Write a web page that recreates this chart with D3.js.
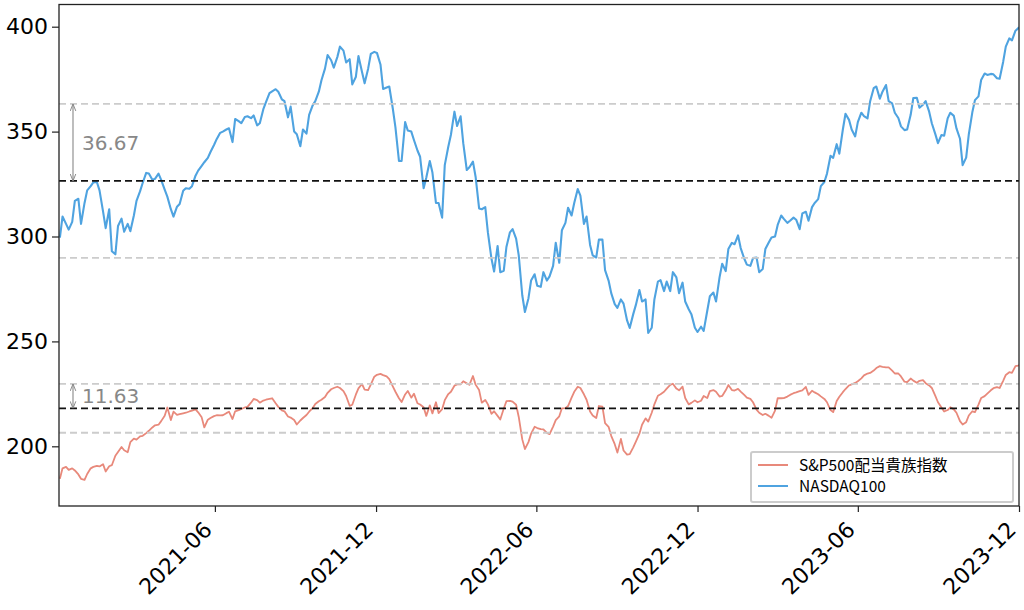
<!DOCTYPE html>
<html><head><meta charset="utf-8">
<script src="https://cdn.jsdelivr.net/npm/d3@7"></script>
<style>body{margin:0;background:#fff}</style>
</head><body><svg id="c" width="1024" height="610"></svg>
<script>
const dates = [
"2020-12-07","2020-12-10","2020-12-14","2020-12-17","2020-12-21","2020-12-24","2020-12-28","2020-12-31",
"2021-01-04","2021-01-07","2021-01-11","2021-01-14","2021-01-18","2021-01-21","2021-01-25","2021-01-28",
"2021-02-01","2021-02-04","2021-02-08","2021-02-11","2021-02-15","2021-02-18","2021-02-22","2021-02-25",
"2021-03-01","2021-03-04","2021-03-08","2021-03-11","2021-03-15","2021-03-18","2021-03-22","2021-03-25",
"2021-03-29","2021-04-01","2021-04-05","2021-04-08","2021-04-12","2021-04-15","2021-04-19","2021-04-22",
"2021-04-26","2021-04-29","2021-05-03","2021-05-06","2021-05-10","2021-05-13","2021-05-17","2021-05-20",
"2021-05-24","2021-05-27","2021-05-31","2021-06-03","2021-06-07","2021-06-10","2021-06-14","2021-06-17",
"2021-06-21","2021-06-24","2021-06-28","2021-07-01","2021-07-05","2021-07-08","2021-07-12","2021-07-15",
"2021-07-19","2021-07-22","2021-07-26","2021-07-29","2021-08-02","2021-08-05","2021-08-09","2021-08-12",
"2021-08-16","2021-08-19","2021-08-23","2021-08-26","2021-08-30","2021-09-02","2021-09-06","2021-09-09",
"2021-09-13","2021-09-16","2021-09-20","2021-09-23","2021-09-27","2021-09-30","2021-10-04","2021-10-07",
"2021-10-11","2021-10-14","2021-10-18","2021-10-21","2021-10-25","2021-10-28","2021-11-01","2021-11-04",
"2021-11-08","2021-11-11","2021-11-15","2021-11-18","2021-11-22","2021-11-25","2021-11-29","2021-12-02",
"2021-12-06","2021-12-09","2021-12-13","2021-12-16","2021-12-20","2021-12-23","2021-12-27","2021-12-30",
"2022-01-03","2022-01-06","2022-01-10","2022-01-13","2022-01-17","2022-01-20","2022-01-24","2022-01-27",
"2022-01-31","2022-02-03","2022-02-07","2022-02-10","2022-02-14","2022-02-17","2022-02-21","2022-02-24",
"2022-02-28","2022-03-03","2022-03-07","2022-03-10","2022-03-14","2022-03-17","2022-03-21","2022-03-24",
"2022-03-28","2022-03-31","2022-04-04","2022-04-07","2022-04-11","2022-04-14","2022-04-18","2022-04-21",
"2022-04-25","2022-04-28","2022-05-02","2022-05-05","2022-05-09","2022-05-12","2022-05-16","2022-05-19",
"2022-05-23","2022-05-26","2022-05-30","2022-06-02","2022-06-06","2022-06-09","2022-06-13","2022-06-16",
"2022-06-20","2022-06-23","2022-06-27","2022-06-30","2022-07-04","2022-07-07","2022-07-11","2022-07-14",
"2022-07-18","2022-07-21","2022-07-25","2022-07-28","2022-08-01","2022-08-04","2022-08-08","2022-08-11",
"2022-08-15","2022-08-18","2022-08-22","2022-08-25","2022-08-29","2022-09-01","2022-09-05","2022-09-08",
"2022-09-12","2022-09-15","2022-09-19","2022-09-22","2022-09-26","2022-09-29","2022-10-03","2022-10-06",
"2022-10-10","2022-10-13","2022-10-17","2022-10-20","2022-10-24","2022-10-27","2022-10-31","2022-11-03",
"2022-11-07","2022-11-10","2022-11-14","2022-11-17","2022-11-21","2022-11-24","2022-11-28","2022-12-01",
"2022-12-05","2022-12-08","2022-12-12","2022-12-15","2022-12-19","2022-12-22","2022-12-26","2022-12-29",
"2023-01-02","2023-01-05","2023-01-09","2023-01-12","2023-01-16","2023-01-19","2023-01-23","2023-01-26",
"2023-01-30","2023-02-02","2023-02-06","2023-02-09","2023-02-13","2023-02-16","2023-02-20","2023-02-23",
"2023-02-27","2023-03-02","2023-03-06","2023-03-09","2023-03-13","2023-03-16","2023-03-20","2023-03-23",
"2023-03-27","2023-03-30","2023-04-03","2023-04-06","2023-04-10","2023-04-13","2023-04-17","2023-04-20",
"2023-04-24","2023-04-27","2023-05-01","2023-05-04","2023-05-08","2023-05-11","2023-05-15","2023-05-18",
"2023-05-22","2023-05-25","2023-05-29","2023-06-01","2023-06-05","2023-06-08","2023-06-12","2023-06-15",
"2023-06-19","2023-06-22","2023-06-26","2023-06-29","2023-07-03","2023-07-06","2023-07-10","2023-07-13",
"2023-07-17","2023-07-20","2023-07-24","2023-07-27","2023-07-31","2023-08-03","2023-08-07","2023-08-10",
"2023-08-14","2023-08-17","2023-08-21","2023-08-24","2023-08-28","2023-08-31","2023-09-04","2023-09-07",
"2023-09-11","2023-09-14","2023-09-18","2023-09-21","2023-09-25","2023-09-28","2023-10-02","2023-10-05",
"2023-10-09","2023-10-12","2023-10-16","2023-10-19","2023-10-23","2023-10-26","2023-10-30","2023-11-02",
"2023-11-06","2023-11-09","2023-11-13","2023-11-16","2023-11-20","2023-11-23","2023-11-27","2023-11-30",
"2023-12-01"
];
const dividendAristocrats = [
184.5,189.5, 190.2,188.8, 189.5,188.5, 186.6,184.5, 184,186.8, 189.5,190.2, 190.7,190.4, 191.5,188,
190.5,191, 195.5,197.3, 199.7,198.1, 197.2,202, 203.7,203.2, 204.7,205, 206.3,207.4, 209,210,
210.3,212, 214.6,218.5, 212.5,216.5, 215,215.3, 215.7,216, 216.6,217, 217.6,216.2, 213.8,209,
212.7,213.5, 214.4,214.8, 214.7,214.8, 215.8,216.5, 213,216.7, 217.2,217.8, 218.5,218.8, 220.8,222.6,
222,220.8, 221.8,222.2, 222.6,222.9, 220.5,218.8, 217.1,216.7, 214.2,213.7, 212.5,210.4, 212.3,213.5,
214.9,216.5, 218.2,220.2, 221.5,222.2, 223.5,225.5, 227.2,227.8, 228.4,227.8, 226.3,224, 219.3,219.8,
224.6,227.6, 229.7,227, 226.8,229.4, 233.2,234.1, 234.5,233.9, 233.3,232, 228.6,226, 222.9,221.1,
224.7,226.4, 223.2,225.1, 220.5,219.9, 218.6,214.5, 219.5,215.7, 221,215.8, 217.7,222, 224.9,226,
228.9,229.5, 229.5,231, 230,229.3, 233.5,229.4, 226.8,220.8, 222.1,220, 215.5,216.7, 214.5,212.8,
218,221.5, 221.7,221.3, 219.8,214, 203.3,198.7, 202,206, 209.3,208.7, 208.2,208.1, 206.4,205.8,
209.4,212.5, 214.3,218.1, 218.2,219.2, 223.2,226, 228.4,227.8, 224.8,222.2, 216.6,214.7, 213.5,219.2,
218.9,211, 209.3,205, 201,197, 203.5,198, 196,196.3, 199.5,202.2, 206,210.3, 213.3,211.8,
216,220, 224.1,224.8, 226,227.5, 229.3,229.8, 227.5,226.7, 228.4,223, 220,220.7, 221.9,221,
221.7,224, 223,226.3, 226.8,226, 223.7,224, 226.7,229.2, 226.8,226.6, 227.4,226.1, 224.5,223.2,
222.6,221, 217.5,216, 214.9,215.5, 214.5,213.6, 217,222.9, 222.9,223, 223.7,224.5, 225.3,225.7,
226.3,226.7, 228.3,224.5, 226.5,225.7, 224.8,223.8, 222.6,221, 217.3,216.3, 221.6,223.6, 225.8,227.3,
229,229.5, 230.2,231, 232.4,233.8, 234.7,235, 236.1,237.3, 238.2,237.9, 237.6,237.6, 236.1,234.7,
234.7,233.3, 230.8,230.6, 232.3,231.3, 230.3,231.2, 231.5,230.1, 229,227.8, 224,221, 218.5,216.6,
217.3,218.6, 217.6,216, 212,210.4, 211.5,214.7, 216.7,216.3, 219.9,223, 223.9,225.1, 226.7,227.7,
228.2,227.8, 231.2,234, 235.3,235, 238.2,238.5,
238.75
];
const nasdaq100 = [
299.5,309.5, 306,303.3, 307,317, 318,306, 316,322, 324,325.8, 326,322, 312,304,
313,293, 291.5,305, 308.5,302.3, 306,302.5, 310,317, 321.5,325.5, 330.3,330, 327,327.5,
330,327, 322.3,319, 313,309.5, 314.2,315.5, 321.8,323, 322.8,324, 329,331.4, 333.7,335.4,
337.5,340.3, 343.6,346.4, 349.4,350, 351,351.6, 345,356, 355,354, 357,357.3, 356.4,357.7,
353,354, 360.7,364, 368.3,369.2, 370.2,369, 365.4,364.5, 356.8,361.9, 350,348.7, 343,351,
349,358, 362.5,364.5, 369,374.5, 380,386.5, 384,380.5, 385.5,390.5, 388.6,383, 384.5,372.5,
376,386, 378.5,373, 380,387, 388,387.5, 382,370.3, 371,371.5, 361,352, 336,336,
354.5,350.5, 350,346, 341,338, 323,328, 336,330.5, 316,316, 309,334, 342.8,348.5,
359.5,352.7, 357.3,344.5, 331.7,333, 335.7,328.5, 313.4,313, 314,301.8, 289.5,283.3, 295.5,283,
283.7,295, 302,303.5, 299,291, 272,264, 270.5,279, 282,276.5, 276,283, 279,281,
286,297, 287.5,303, 306.5,313.7, 310,316, 322.6,319.5, 306,309.5, 296,291, 290,298.5,
298.5,284, 279,273, 267.8,266, 270,268, 260,256.4, 263,267.4, 274.5,269, 270,254,
256.5,270, 278.5,279.2, 274,278.5, 274,283, 280.5,273, 278,269, 265.3,263, 256.5,254.5,
257,255, 264.5,271.5, 273.3,269, 280.5,287, 283.5,294, 297,296.3, 300.5,294.5, 289.5,286.6,
286,289.7, 290,283, 284.5,294, 297.3,299.5, 300,305.5, 310,308.4, 306.5,307.5, 309,308,
303.5,311, 311.8,307.5, 314,316, 317.8,324, 326,330, 338.5,337.5, 344,339.5, 351,358.5,
355.6,351, 347.7,354.5, 359,357.4, 356.3,364.5, 370.7,371.5, 365.7,369, 372.2,364.5, 363.4,359,
356.5,352.5, 350.7,351, 358,366, 366.1,361.4, 362.8,364.5, 359.5,354, 348.8,344.5, 348.4,348,
356.3,359, 357.5,351.5, 346.6,334, 337.6,348.7, 359.2,365, 366.8,374.6, 377.7,377, 377.5,377.3,
375.4,375.2, 383.2,390.5, 394.4,393.5, 398.1,399.2,
399.8
];
const seriesNames = ["S&P500配当貴族指数", "NASDAQ100"];
const seriesColors = ["#e8897b", "#4fa3e0"];
const bandMeans = [218.1, 326.5];
const bandStds = [11.63, 36.67];
const xTickDates = ["2021-06-01","2021-12-01","2022-06-01","2022-12-01","2023-06-01","2023-12-01"];
const xTickLabels = ["2021-06","2021-12","2022-06","2022-12","2023-06","2023-12"];
const yTickValues = [200, 250, 300, 350, 400];

const parse = d3.timeParse("%Y-%m-%d");
const L = 59, R = 1019, T = 4.5, B = 506;
const svg = d3.select("#c");
const x = d3.scaleTime().domain([parse("2020-12-06"), parse("2023-12-01")]).range([L, R]);
const y = d3.scaleLinear().domain([171.55, 410.58]).range([B, T]);
const font = "'DejaVu Sans', 'Noto Sans CJK JP', sans-serif";
const legendFont = "'Noto Sans CJK JP', 'DejaVu Sans', sans-serif";

const defs = svg.append("defs");
defs.append("clipPath").attr("id","clip").append("rect").attr("x",L).attr("y",T).attr("width",R-L).attr("height",B-T);
["s","e"].forEach(k=>{
  const m = defs.append("marker").attr("id","arr"+k).attr("viewBox","0 0 10 10")
    .attr("refX", 10).attr("refY",5).attr("markerWidth",7).attr("markerHeight",7)
    .attr("markerUnits","userSpaceOnUse").attr("orient", k==="s" ? "auto-start-reverse" : "auto");
  m.append("path").attr("d","M0,1 L10,5 L0,9").attr("fill","none").attr("stroke","#888").attr("stroke-width",1.4);
});

const g = svg.append("g").attr("clip-path","url(#clip)");
const seriesData = [dividendAristocrats, nasdaq100];
const line = d3.line().x((d,i)=>x(parse(dates[i]))).y(d=>y(d));
seriesData.forEach((vals,k)=>{
  g.append("path").datum(vals).attr("d", line).attr("fill","none")
    .attr("stroke", seriesColors[k]).attr("stroke-width", k===1 ? 2.1 : 1.8)
    .attr("stroke-linejoin","round");
});

// mean and ±1 std bands
bandMeans.forEach((m,k)=>{
  const s = bandStds[k];
  [m+s, m-s].forEach(v=>{
    g.append("line").attr("x1",L).attr("x2",R).attr("y1",y(v)).attr("y2",y(v))
      .attr("stroke","#cccccc").attr("stroke-width",1.8).attr("stroke-dasharray","7,4");
  });
  g.append("line").attr("x1",L).attr("x2",R).attr("y1",y(m)).attr("y2",y(m))
    .attr("stroke","#111").attr("stroke-width",1.8).attr("stroke-dasharray","7,4");
  const ax = 73;
  svg.append("line").attr("x1",ax).attr("x2",ax).attr("y1",y(m)).attr("y2",y(m+s))
    .attr("stroke","#888").attr("stroke-width",1.1)
    .attr("marker-start","url(#arrs)").attr("marker-end","url(#arre)");
  svg.append("text").attr("x",82).attr("y",(y(m)+y(m+s))/2).attr("dy","0.36em")
    .attr("font-family",font).attr("font-size",20).attr("fill","#888").text(s.toFixed(2));
});

// frame
svg.append("rect").attr("x",L).attr("y",T).attr("width",R-L).attr("height",B-T)
  .attr("fill","none").attr("stroke","#222").attr("stroke-width",1.3);

// y axis
const ya = svg.append("g").attr("transform",`translate(${L},0)`)
  .call(d3.axisLeft(y).tickValues(yTickValues).tickSize(7).tickPadding(4).tickFormat(d3.format("d")));
ya.select(".domain").remove();
ya.selectAll("line").attr("stroke","#222").attr("stroke-width",1.2);
ya.selectAll("text").attr("font-family",font).attr("font-size",22).attr("fill","#000");

// x axis
const xa = svg.append("g").attr("transform",`translate(0,${B})`)
  .call(d3.axisBottom(x).tickValues(xTickDates.map(parse)).tickSize(6)
    .tickFormat((d,i)=>xTickLabels[i]));
xa.select(".domain").remove();
xa.selectAll("line").attr("stroke","#222").attr("stroke-width",1.2);
xa.selectAll("text").attr("font-family",font).attr("font-size",22).attr("fill","#000")
  .attr("text-anchor","end").attr("dy",null).attr("y",null)
  .attr("transform","translate(-2,25) rotate(-45)");

// legend
const lg = svg.append("g");
lg.append("rect").attr("x",751).attr("y",452).attr("width",262).attr("height",50).attr("rx",2)
  .attr("fill","#fff").attr("fill-opacity",0.85).attr("stroke","#cccccc").attr("stroke-width",2);
seriesNames.forEach((n,k)=>{
  const yy = 465 + k*21;
  lg.append("line").attr("x1",758).attr("x2",788).attr("y1",yy).attr("y2",yy)
    .attr("stroke",seriesColors[k]).attr("stroke-width",2);
  lg.append("text").attr("x",799).attr("y",yy).attr("dy","0.36em").attr("font-family",legendFont)
    .attr("font-size",15.5).attr("fill","#000").text(n);
});
</script></body></html>
